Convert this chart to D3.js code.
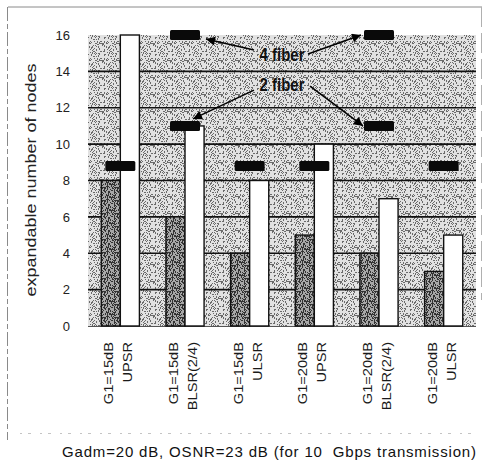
<!DOCTYPE html>
<html>
<head>
<meta charset="utf-8">
<script src="https://cdn.jsdelivr.net/npm/d3@7"></script>
<style>
  html, body { margin: 0; padding: 0; background: #fff; }
  svg { display: block; font-family: Arial, "Liberation Sans", sans-serif; }
</style>
</head>
<body>
<svg id="chart" width="487" height="466"></svg>
<script>
// ---- data ----
const labelLine1 = ["G1=15dB", "G1=15dB", "G1=15dB", "G1=20dB", "G1=20dB", "G1=20dB"];
const labelLine2 = ["UPSR", "BLSR(2/4)", "ULSR", "UPSR", "BLSR(2/4)", "ULSR"];
const twoFiber  = [8, 6, 4, 5, 4, 3];
const fourFiber = [16, 11, 8, 10, 7, 5];
const markerLow  = [8.8, 11, 8.8, 8.8, 11, 8.8];
const markerHigh = [null, 16, null, null, 16, null];
const yTicks = [0, 2, 4, 6, 8, 10, 12, 14, 16];
const yTitle = "expandable number of nodes";
const caption = "Gadm=20 dB, OSNR=23 dB (for 10\u00a0\u00a0Gbps transmission)";
const annot4 = "4 fiber";
const annot2 = "2 fiber";

// ---- layout ----
const svg = d3.select("#chart");
const plot = { left: 88, right: 476, top: 35, bottom: 326 };
const idx = d3.range(labelLine1.length);

const x = d3.scaleBand().domain(idx).range([plot.left, plot.right])
  .paddingInner(0.41).paddingOuter(0.205);
const xs = d3.scaleBand().domain(["two", "four"]).range([0, x.bandwidth()]);
const y = d3.scaleLinear().domain([0, 16]).range([plot.bottom, plot.top]);
const cx = i => x(i) + x.bandwidth() / 2;

// ---- patterns (halftone-like stipple texture, deterministic hash) ----
const defs = svg.append("defs");
function stipple(id, base, dot, size, threshold, salt) {
  const p = defs.append("pattern").attr("id", id).attr("patternUnits", "userSpaceOnUse")
    .attr("width", size).attr("height", size);
  p.append("rect").attr("width", size).attr("height", size).attr("fill", base);
  for (let a = 0; a < size; a++) {
    for (let b = 0; b < size; b++) {
      const h = (a * 73 + b * 151 + a * b * 29 + salt * 97 + ((a ^ b) * 41)) % 100;
      if (h < threshold) {
        p.append("rect").attr("x", a).attr("y", b).attr("width", 1).attr("height", 1)
          .attr("fill", dot);
      }
    }
  }
}
stipple("bgPat", "#e2e2e2", "#6a6a6a", 17, 26, 3);
stipple("darkPat", "#a8a8a8", "#333333", 13, 42, 7);

// ---- frame ----
svg.append("line").attr("x1", 8).attr("x2", 482).attr("y1", 7).attr("y2", 7)
  .attr("stroke", "#8a8a8a").attr("stroke-width", 1);
svg.append("line").attr("x1", 7.5).attr("x2", 7.5).attr("y1", 7).attr("y2", 440)
  .attr("stroke", "#8a8a8a").attr("stroke-width", 1).attr("stroke-dasharray", "14 3 5 3");
svg.append("line").attr("x1", 481.5).attr("x2", 481.5).attr("y1", 7).attr("y2", 300)
  .attr("stroke", "#b0b0b0").attr("stroke-width", 1).attr("stroke-dasharray", "20 6");
svg.append("line").attr("x1", 20).attr("x2", 480).attr("y1", 433.5).attr("y2", 433.5)
  .attr("stroke", "#c4c4c4").attr("stroke-width", 1).attr("stroke-dasharray", "2 6 3 9");

// ---- plot background ----
svg.append("rect").attr("x", plot.left).attr("y", plot.top)
  .attr("width", plot.right - plot.left).attr("height", plot.bottom - plot.top)
  .attr("fill", "url(#bgPat)");

// gridlines
svg.append("g").selectAll("line").data(yTicks.filter(t => t > 0 && t < 16)).join("line")
  .attr("x1", plot.left).attr("x2", plot.right)
  .attr("y1", d => y(d)).attr("y2", d => y(d))
  .attr("stroke", "#111").attr("stroke-width", 1.6);

// baseline
svg.append("line").attr("x1", plot.left).attr("x2", plot.right)
  .attr("y1", y(0) + 0.5).attr("y2", y(0) + 0.5)
  .attr("stroke", "#555").attr("stroke-width", 1);

// ---- bars ----
const bars = svg.append("g");
bars.selectAll("rect.two").data(idx).join("rect").attr("class", "two")
  .attr("x", i => x(i) + xs("two"))
  .attr("y", i => y(twoFiber[i]))
  .attr("width", xs.bandwidth())
  .attr("height", i => y(0) - y(twoFiber[i]))
  .attr("fill", "url(#darkPat)").attr("stroke", "#111").attr("stroke-width", 1.4);
bars.selectAll("rect.four").data(idx).join("rect").attr("class", "four")
  .attr("x", i => x(i) + xs("four"))
  .attr("y", i => y(fourFiber[i]))
  .attr("width", xs.bandwidth())
  .attr("height", i => y(0) - y(fourFiber[i]))
  .attr("fill", "#ffffff").attr("stroke", "#111").attr("stroke-width", 1.4);

// ---- markers ----
const mW = 30, mH = 10;
const markers = [];
idx.forEach(i => {
  if (markerLow[i] != null) markers.push({ i, v: markerLow[i], kind: "low" });
  if (markerHigh[i] != null) markers.push({ i, v: markerHigh[i], kind: "high" });
});
svg.append("g").selectAll("rect").data(markers).join("rect")
  .attr("x", d => cx(d.i) - mW / 2).attr("y", d => y(d.v) - mH / 2)
  .attr("width", mW).attr("height", mH).attr("rx", 1.5)
  .attr("fill", "#0a0a0a");

// ---- annotations ----
defs.append("marker").attr("id", "arrow").attr("viewBox", "0 0 10 10")
  .attr("refX", 10).attr("refY", 5).attr("markerWidth", 11).attr("markerHeight", 9)
  .attr("markerUnits", "userSpaceOnUse").attr("orient", "auto")
  .append("path").attr("d", "M0,0 L10,5 L0,10 Z").attr("fill", "#000");

const midX = x(3) - (x.step() - x.bandwidth()) / 2;  // boundary between 3rd and 4th group
const ann = svg.append("g");
function bigLabel(txt, v) {
  ann.append("text").attr("transform", `translate(${midX},${y(v)}) scale(1,1.2)`)
    .attr("text-anchor", "middle").attr("dy", "0.36em")
    .attr("font-size", 15).attr("font-weight", "bold").attr("fill", "#111").text(txt);
}
bigLabel(annot4, 14.9);
bigLabel(annot2, 13.3);

function arrow(x1, y1, x2, y2) {
  ann.append("line").attr("x1", x1).attr("y1", y1).attr("x2", x2).attr("y2", y2)
    .attr("stroke", "#000").attr("stroke-width", 1.5).attr("marker-end", "url(#arrow)");
}
// 4 fiber -> high markers
arrow(midX - 28, y(14.9) - 5, cx(1) + mW / 2 + 6, y(16) + 4);
arrow(midX + 26, y(14.9) - 1, cx(4) - mW / 2 - 3, y(16));
// 2 fiber -> 11 markers
arrow(midX - 28, y(13.3) + 6, cx(1) + mW / 2 - 7, y(11) - mH / 2 - 2);
arrow(midX + 28, y(13.3) + 2, cx(4) - mW / 2 - 1, y(11));

// ---- y axis labels ----
svg.append("g").selectAll("text").data(yTicks).join("text")
  .attr("x", 70).attr("y", d => y(d)).attr("dy", "0.36em")
  .attr("text-anchor", "end").attr("font-size", 13).attr("fill", "#222")
  .text(d => d);

svg.append("text")
  .attr("transform", `translate(39,180) rotate(-90) scale(1.2,1)`)
  .attr("text-anchor", "middle").attr("dy", "-0.22em")
  .attr("font-size", 15).attr("fill", "#222").text(yTitle);

// ---- x labels (rotated) ----
const xl = svg.append("g").attr("font-size", 12.5).attr("fill", "#1a1a1a");
idx.forEach(i => {
  xl.append("text")
    .attr("transform", `translate(${cx(i) - 7},342) rotate(-90) scale(1.17,1)`)
    .attr("text-anchor", "end").text(labelLine1[i]);
  xl.append("text")
    .attr("transform", `translate(${cx(i) + 12},342) rotate(-90) scale(1.17,1)`)
    .attr("text-anchor", "end").text(labelLine2[i]);
});

// ---- caption ----
svg.append("text").attr("x", 62).attr("y", 457)
  .attr("font-size", 15).attr("fill", "#111")
  .attr("textLength", 414).attr("lengthAdjust", "spacing")
  .text(caption);
</script>
</body>
</html>
